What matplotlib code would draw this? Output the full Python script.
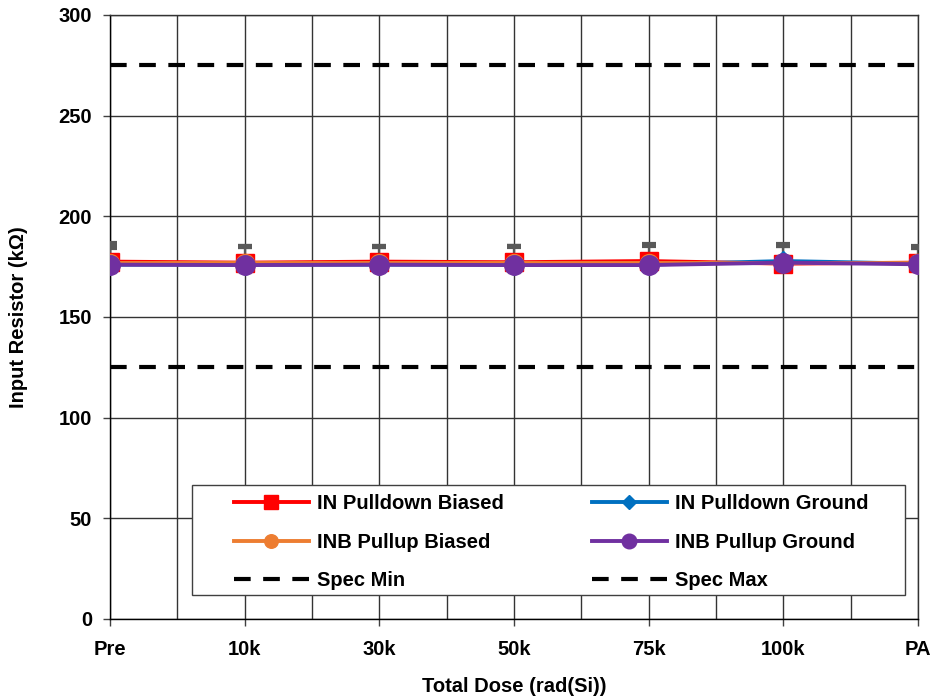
import matplotlib
matplotlib.use('Agg')
import matplotlib.pyplot as plt
from matplotlib.patches import Rectangle
import numpy as np

plt.rcParams['font.family'] = ['Liberation Sans', 'DejaVu Sans']
plt.rcParams['font.weight'] = 'bold'

doses = ['Pre', '10k', '30k', '50k', '75k', '100k', 'PA']

in_pd_biased = [177.5, 177.0, 177.5, 177.2, 177.8, 176.5, 177.0]
in_pd_ground = [176.0, 176.0, 176.0, 176.0, 176.0, 177.8, 176.5]
inb_pu_biased = [177.0, 177.0, 177.0, 177.0, 177.0, 177.0, 177.0]
inb_pu_ground = [176.0, 175.8, 176.0, 175.8, 175.8, 177.0, 176.2]

# upper error bar lengths (only + side visible)
err_pd_biased = [9.5, 8.0, 8.0, 8.0, 8.5, 9.0, 7.5]
err_pd_ground = [9.5, 9.5, 9.5, 9.5, 10.0, 8.5, 9.0]
err_pu_biased = [8.0, 8.0, 8.0, 8.0, 8.5, 8.5, 7.5]
err_pu_ground = [8.5, 9.5, 9.0, 9.5, 10.0, 9.0, 8.5]

spec_min = 125
spec_max = 275

x = np.arange(len(doses))
FS = 14.5

fig = plt.figure(figsize=(9.35, 6.99), dpi=100)
ax = fig.add_axes([110 / 935, 80 / 699, 808 / 935, 604 / 699])

series = [
    ('IN Pulldown Biased', in_pd_biased, err_pd_biased, '#FF0000', 's', 13),
    ('IN Pulldown Ground', in_pd_ground, err_pd_ground, '#0070C0', 'D', 10),
    ('INB Pullup Biased', inb_pu_biased, err_pu_biased, '#ED7D31', 'o', 13),
    ('INB Pullup Ground', inb_pu_ground, err_pu_ground, '#7030A0', 'o', 14),
]

handles = {}
for name, vals, err, color, mk, ms in series:
    ax.errorbar(x, vals, yerr=[np.zeros(len(vals)), err], fmt='none',
                ecolor='#595959', elinewidth=1.5, capsize=5, capthick=3, zorder=3)
for name, vals, err, color, mk, ms in series:
    ln, = ax.plot(x, vals, color=color, lw=2.8, marker=mk, markersize=ms,
                  markerfacecolor=color, markeredgecolor=color, zorder=4)
    handles[name] = ln

smin, = ax.plot([x[0], x[-1]], [spec_min, spec_min], color='black', lw=3,
                dashes=(4, 3), zorder=2)
smax, = ax.plot([x[0], x[-1]], [spec_max, spec_max], color='black', lw=3,
                dashes=(4, 3), zorder=2)

ax.set_xlim(x[0], x[-1])
ax.set_ylim(0, 300)
ax.set_xticks(x)
ax.set_xticklabels(doses)
ax.set_xticks(x[:-1] + 0.5, minor=True)
ax.set_yticks(np.arange(0, 301, 50))
ax.tick_params(axis='both', which='major', labelsize=FS, length=5, width=1, color='#404040')
ax.tick_params(axis='x', which='minor', length=0)
ax.tick_params(axis='x', pad=10)
ax.tick_params(axis='y', pad=8)
for lbl in ax.get_xticklabels() + ax.get_yticklabels():
    lbl.set_fontweight('bold')

ax.grid(True, which='both', axis='x', color='#333333', lw=1)
ax.grid(True, which='major', axis='y', color='#333333', lw=1)
ax.set_axisbelow(True)
for sp in ax.spines.values():
    sp.set_color('#333333')
    sp.set_linewidth(1)
ax.spines['left'].set_color('black')
ax.spines['bottom'].set_color('black')

ax.set_xlabel('Total Dose (rad(Si))', fontsize=FS, fontweight='bold', labelpad=13)
ax.set_ylabel('Input Resistor (k\u03a9)', fontsize=FS, fontweight='bold', labelpad=22)

# legend frame drawn separately, legend entries placed inside
frame = Rectangle((82 / 808, 24 / 604), 713 / 808, 110 / 604, transform=ax.transAxes,
                  facecolor='white', edgecolor='#404040', lw=1, zorder=9)
ax.add_patch(frame)

leg_order = [
    (handles['IN Pulldown Biased'], 'IN Pulldown Biased'),
    (handles['INB Pullup Biased'], 'INB Pullup Biased'),
    (smin, 'Spec Min'),
    (handles['IN Pulldown Ground'], 'IN Pulldown Ground'),
    (handles['INB Pullup Ground'], 'INB Pullup Ground'),
    (smax, 'Spec Max'),
]
leg = ax.legend([h for h, _ in leg_order], [l for _, l in leg_order], ncol=2,
                loc='upper left', bbox_to_anchor=(124 / 808, 125 / 604),
                prop={'weight': 'bold', 'size': FS}, frameon=False,
                handlelength=3.7, markerscale=0.75, labelspacing=0.98,
                borderpad=0, borderaxespad=0, handletextpad=0.4, columnspacing=4.4)
leg.set_zorder(10)

fig.savefig('out.png', dpi=100)
